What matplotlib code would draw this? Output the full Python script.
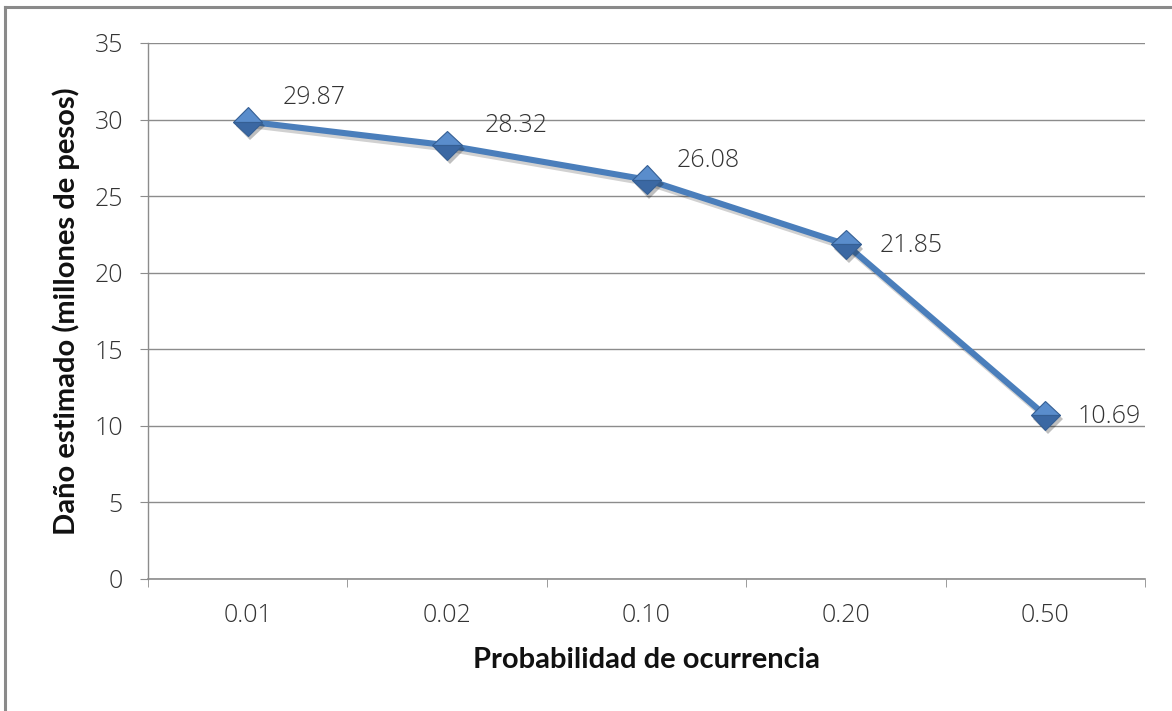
import matplotlib
matplotlib.use("Agg")
import matplotlib.pyplot as plt
import matplotlib.patheffects as pe
from matplotlib.lines import Line2D

# Data
probabilidades = ["0.01", "0.02", "0.10", "0.20", "0.50"]
danio = [29.87, 28.32, 26.08, 21.85, 10.69]
y_ticks = [0, 5, 10, 15, 20, 25, 30, 35]

# Label offsets (points) relative to each marker
label_offsets = [(25, 17), (27, 14), (22, 14), (24, -1), (23, -1)]

plt.rcParams["font.family"] = ["Open Sans", "DejaVu Sans"]

fig = plt.figure(figsize=(11.72, 7.11), dpi=100)
ax = fig.add_axes([148 / 1172, 132 / 711, (1145 - 148) / 1172, (579 - 43) / 711])

grid_c = "#8c8c8c"
text_c = "#333333"
line_c = "#4a7ebb"
num_family = ["Open Sans", "DejaVu Sans"]
num_weight = "light"
num_size = 18

x = list(range(len(probabilidades)))

shadow = [pe.SimpleLineShadow(offset=(1.5, -2.5), shadow_color="#000000", alpha=0.18), pe.Normal()]
ax.plot(x, danio, color=line_c, lw=4.4, solid_capstyle="round", zorder=3,
        path_effects=shadow)
ax.plot(x, danio, linestyle="none", marker="D", ms=15, fillstyle="top",
        mfc="#5a8dcc", mfcalt="#3b68a3", mec="#355f94", mew=0.8, zorder=4,
        path_effects=[pe.SimplePatchShadow(offset=(2, -3), shadow_rgbFace="#000000", alpha=0.25),
                      pe.Normal()])

for xi, v, off in zip(x, danio, label_offsets):
    ax.annotate(f"{v:.2f}", (xi, v), xytext=off, textcoords="offset points",
                ha="left", va="center", color=text_c, zorder=6,
                fontfamily=num_family, fontweight=num_weight, fontsize=num_size)

ax.set_xlim(-0.5, len(x) - 0.5)
ax.set_ylim(0, 35)
ax.set_yticks(y_ticks)
ax.set_yticklabels([str(t) for t in y_ticks])
ax.set_xticks(x)
ax.set_xticklabels(probabilidades)
ax.set_xticks([i - 0.5 for i in range(len(x) + 1)], minor=True)
for lab in ax.get_xticklabels() + ax.get_yticklabels():
    lab.set_fontfamily(num_family)
    lab.set_fontweight(num_weight)
    lab.set_fontsize(num_size)

ax.grid(axis="y", color=grid_c, lw=1.0, zorder=0)
ax.set_axisbelow(True)
for s in ["top", "right"]:
    ax.spines[s].set_visible(False)
ax.spines["left"].set_color(grid_c)
ax.spines["bottom"].set_color(grid_c)
ax.spines["left"].set_linewidth(1.0)
ax.spines["bottom"].set_linewidth(1.2)

ax.tick_params(axis="y", length=6, color=grid_c, labelcolor=text_c, pad=12)
ax.tick_params(axis="x", which="major", length=0, labelcolor=text_c, pad=17)
ax.tick_params(axis="x", which="minor", length=6, color=grid_c)

ax.set_xlabel("Probabilidad de ocurrencia", fontsize=21, fontweight="bold", color="#111111",
              labelpad=14, family=["Lato", "DejaVu Sans"])
ax.set_ylabel("Daño estimado (millones de pesos)", fontsize=21, fontweight="bold",
              color="#111111", labelpad=10, family=["Lato", "DejaVu Sans"])

# chart frame
fig.add_artist(Line2D([5 / 1172, 5 / 1172], [0, 1 - 7 / 711], transform=fig.transFigure,
                      color="#8a8a8a", lw=2.2))
fig.add_artist(Line2D([5 / 1172, 1], [1 - 7 / 711, 1 - 7 / 711], transform=fig.transFigure,
                      color="#8a8a8a", lw=2.2))

fig.savefig("out.png", dpi=100)
